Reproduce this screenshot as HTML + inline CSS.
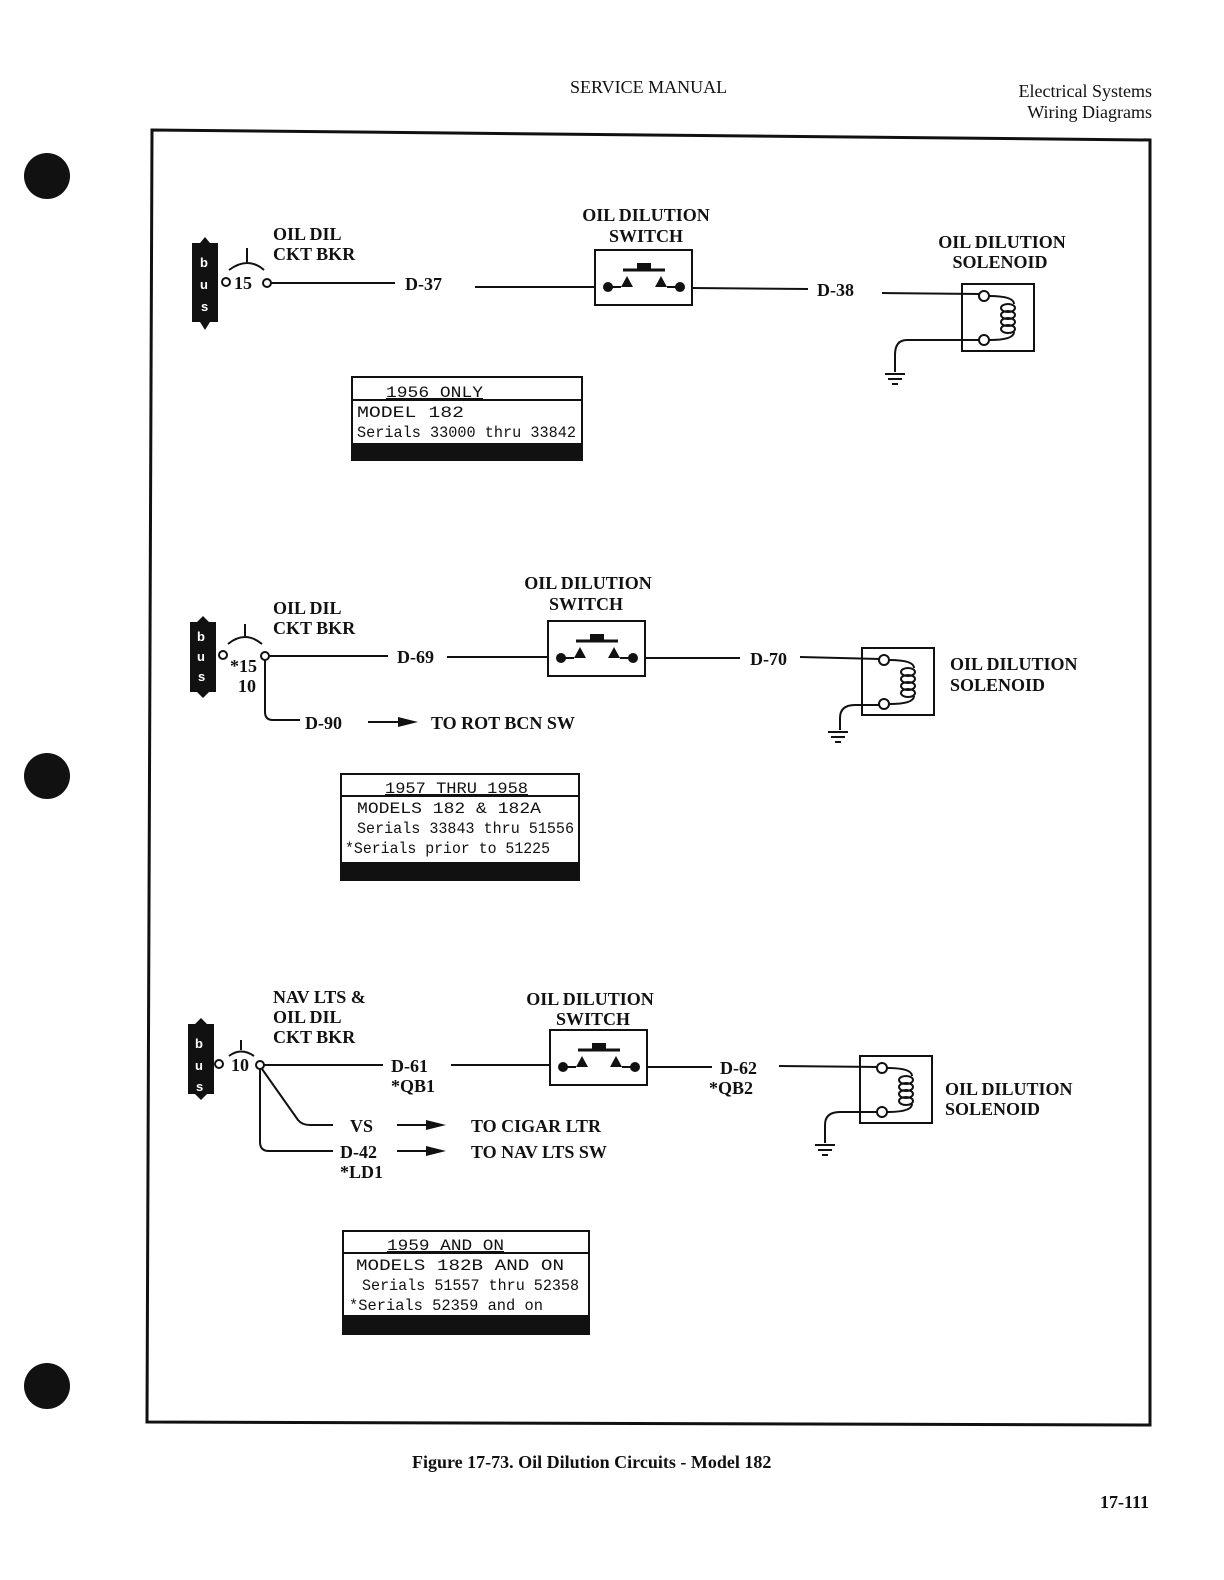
<!DOCTYPE html>
<html><head><meta charset="utf-8"><style>
html,body{margin:0;padding:0;background:#fff;width:1224px;height:1580px;overflow:hidden}
svg{display:block}
.t{font-family:"Liberation Serif",serif;font-weight:bold;font-size:18px;fill:#111}
.m{font-family:"Liberation Mono","DejaVu Sans Mono",monospace;font-size:16px;fill:#111}
.h{font-family:"Liberation Serif",serif;font-size:18px;fill:#111}
.w{stroke:#111;stroke-width:2;fill:none}
.b{font-family:"Liberation Sans",sans-serif;font-weight:bold;font-size:13px;fill:#fff}
</style></head><body>
<svg width="1224" height="1580" viewBox="0 0 1224 1580">
<defs>
<g id="sw">
<rect x="0" y="0" width="97" height="55" class="w" stroke-width="3"/>
<line x1="28" y1="20" x2="70" y2="20" stroke="#111" stroke-width="3"/>
<rect x="42" y="13" width="14" height="8" fill="#111"/>
<circle cx="13" cy="37" r="5" fill="#111"/>
<circle cx="85" cy="37" r="5" fill="#111"/>
<line x1="13" y1="37" x2="26" y2="37" class="w"/>
<line x1="72" y1="37" x2="85" y2="37" class="w"/>
<polygon points="26,37 32,26 38,37" fill="#111"/>
<polygon points="60,37 66,26 72,37" fill="#111"/>
</g>
<g id="sol">
<rect x="0" y="0" width="72" height="67" class="w" stroke-width="3"/>
<circle cx="22" cy="12" r="5" fill="#fff" stroke="#111" stroke-width="2"/>
<circle cx="22" cy="56" r="5" fill="#fff" stroke="#111" stroke-width="2"/>
<path d="M27 12 Q52 12 52 20 M27 56 Q52 56 52 48" class="w"/>
<ellipse cx="46" cy="24" rx="7" ry="4" class="w"/>
<ellipse cx="46" cy="31" rx="7" ry="4" class="w"/>
<ellipse cx="46" cy="38" rx="7" ry="4" class="w"/>
<ellipse cx="46" cy="45" rx="7" ry="4" class="w"/>
</g>
<g id="gnd">
<line x1="-10" y1="0" x2="10" y2="0" class="w"/>
<line x1="-7" y1="5" x2="7" y2="5" class="w"/>
<line x1="-3" y1="10" x2="3" y2="10" class="w"/>
</g>
<polygon id="arr" points="0,-5 20,0 0,5" fill="#111"/>
</defs>

<circle cx="47" cy="176" r="23" fill="#111"/>
<circle cx="47" cy="776" r="23" fill="#111"/>
<circle cx="47" cy="1386" r="23" fill="#111"/>

<text x="570" y="93" class="h">SERVICE MANUAL</text>
<text x="1152" y="97" class="h" text-anchor="end">Electrical Systems</text>
<text x="1152" y="118" class="h" text-anchor="end">Wiring Diagrams</text>

<polygon points="152,130 1150,140 1150,1425 147,1422" fill="none" stroke="#111" stroke-width="3"/>

<!-- Diagram 1 -->
<polygon points="192,243 200,243 205,237 210,243 218,243 218,322 210,322 205,330 200,322 192,322" fill="#111"/>
<text x="200" y="267" class="b">b</text><text x="200" y="289" class="b">u</text><text x="201" y="311" class="b">s</text>
<circle cx="226" cy="282" r="4" fill="#fff" stroke="#111" stroke-width="2"/>
<circle cx="267" cy="283" r="4" fill="#fff" stroke="#111" stroke-width="2"/>
<path d="M229 270 Q248 256 264 270 M247 262 V248" class="w"/>
<text x="234" y="289" class="t" font-size="17">15</text>
<text x="273" y="240" class="t">OIL DIL</text><text x="273" y="260" class="t">CKT BKR</text>
<line x1="271" y1="283" x2="395" y2="283" class="w"/>
<text x="405" y="290" class="t">D-37</text>
<line x1="475" y1="287" x2="595" y2="287" class="w"/>
<use href="#sw" x="595" y="250"/>
<text x="646" y="221" class="t" text-anchor="middle">OIL DILUTION</text><text x="646" y="242" class="t" text-anchor="middle">SWITCH</text>
<line x1="692" y1="288" x2="808" y2="289" class="w"/>
<text x="817" y="296" class="t">D-38</text>
<line x1="882" y1="293" x2="980" y2="294" class="w"/>
<use href="#sol" x="962" y="284"/>
<path d="M980 340 H907 Q895 340 895 355 V372" class="w"/>
<use href="#gnd" x="895" y="374"/>
<text x="1002" y="248" class="t" text-anchor="middle">OIL DILUTION</text><text x="1000" y="268" class="t" text-anchor="middle">SOLENOID</text>
<rect x="352" y="377" width="230" height="83" fill="none" stroke="#111" stroke-width="2"/>
<line x1="352" y1="400" x2="582" y2="400" stroke="#111" stroke-width="2"/>
<rect x="352" y="443" width="230" height="17" fill="#111"/>
<text x="386" y="397" class="m" text-decoration="underline" textLength="97" lengthAdjust="spacingAndGlyphs">1956 ONLY</text>
<text x="357" y="417" class="m" textLength="107" lengthAdjust="spacingAndGlyphs">MODEL 182</text>
<text x="357" y="437" class="m" textLength="219" lengthAdjust="spacingAndGlyphs">Serials 33000 thru 33842</text>

<!-- Diagram 2 -->
<polygon points="190,622 197,622 203,616 209,622 216,622 216,692 209,692 203,698 197,692 190,692" fill="#111"/>
<text x="197" y="641" class="b">b</text><text x="197" y="661" class="b">u</text><text x="198" y="681" class="b">s</text>
<circle cx="223" cy="655" r="4" fill="#fff" stroke="#111" stroke-width="2"/>
<circle cx="265" cy="656" r="4" fill="#fff" stroke="#111" stroke-width="2"/>
<path d="M228 644 Q245 630 262 644 M245 636 V624" class="w"/>
<text x="230" y="672" class="t" font-size="17">*15</text>
<text x="238" y="692" class="t" font-size="17">10</text>
<text x="273" y="614" class="t">OIL DIL</text><text x="273" y="634" class="t">CKT BKR</text>
<line x1="269" y1="656" x2="388" y2="656" class="w"/>
<text x="397" y="663" class="t">D-69</text>
<line x1="447" y1="657" x2="548" y2="657" class="w"/>
<use href="#sw" x="548" y="621"/>
<text x="588" y="589" class="t" text-anchor="middle">OIL DILUTION</text><text x="586" y="610" class="t" text-anchor="middle">SWITCH</text>
<line x1="645" y1="658" x2="740" y2="658" class="w"/>
<text x="750" y="665" class="t">D-70</text>
<line x1="800" y1="657" x2="880" y2="659" class="w"/>
<use href="#sol" x="862" y="648"/>
<path d="M880 705 H855 Q840 705 840 718 V730" class="w"/>
<use href="#gnd" x="838" y="732"/>
<text x="950" y="670" class="t">OIL DILUTION</text><text x="950" y="691" class="t">SOLENOID</text>
<path d="M265 660 V712 Q265 720 273 720 H300" class="w"/>
<text x="305" y="729" class="t">D-90</text>
<line x1="368" y1="722" x2="400" y2="722" class="w"/><use href="#arr" x="398" y="722"/>
<text x="431" y="729" class="t">TO ROT BCN SW</text>
<rect x="341" y="774" width="238" height="106" fill="none" stroke="#111" stroke-width="2"/>
<line x1="341" y1="796" x2="579" y2="796" stroke="#111" stroke-width="2"/>
<rect x="341" y="862" width="238" height="18" fill="#111"/>
<text x="385" y="793" class="m" text-decoration="underline" textLength="143" lengthAdjust="spacingAndGlyphs">1957 THRU 1958</text>
<text x="357" y="813" class="m" textLength="184" lengthAdjust="spacingAndGlyphs">MODELS 182 &amp; 182A</text>
<text x="357" y="833" class="m" textLength="217" lengthAdjust="spacingAndGlyphs">Serials 33843 thru 51556</text>
<text x="345" y="853" class="m" textLength="205" lengthAdjust="spacingAndGlyphs">*Serials prior to 51225</text>

<!-- Diagram 3 -->
<polygon points="188,1024 195,1024 201,1018 207,1024 214,1024 214,1094 207,1094 201,1100 195,1094 188,1094" fill="#111"/>
<text x="195" y="1048" class="b">b</text><text x="195" y="1070" class="b">u</text><text x="196" y="1091" class="b">s</text>
<circle cx="219" cy="1064" r="4" fill="#fff" stroke="#111" stroke-width="2"/>
<circle cx="260" cy="1065" r="4" fill="#fff" stroke="#111" stroke-width="2"/>
<path d="M229 1056 Q241 1047 254 1056 M241 1050 V1040" class="w"/>
<text x="231" y="1071" class="t" font-size="17">10</text>
<text x="273" y="1003" class="t">NAV LTS &amp;</text><text x="273" y="1023" class="t">OIL DIL</text><text x="273" y="1043" class="t">CKT BKR</text>
<line x1="264" y1="1065" x2="383" y2="1065" class="w"/>
<text x="391" y="1072" class="t">D-61</text><text x="391" y="1092" class="t">*QB1</text>
<line x1="451" y1="1065" x2="550" y2="1065" class="w"/>
<use href="#sw" x="550" y="1030"/>
<text x="590" y="1005" class="t" text-anchor="middle">OIL DILUTION</text><text x="593" y="1025" class="t" text-anchor="middle">SWITCH</text>
<line x1="647" y1="1067" x2="712" y2="1067" class="w"/>
<text x="720" y="1074" class="t">D-62</text><text x="709" y="1094" class="t">*QB2</text>
<line x1="779" y1="1066" x2="880" y2="1067" class="w"/>
<use href="#sol" x="860" y="1056"/>
<path d="M878 1112 H840 Q825 1112 825 1125 V1143" class="w"/>
<use href="#gnd" x="825" y="1145"/>
<text x="945" y="1095" class="t">OIL DILUTION</text><text x="945" y="1115" class="t">SOLENOID</text>
<path d="M262 1069 L298 1120 Q302 1125 310 1125 H333" class="w"/>
<path d="M260 1069 V1142 Q260 1151 269 1151 H333" class="w"/>
<text x="350" y="1132" class="t">VS</text>
<text x="340" y="1158" class="t">D-42</text><text x="340" y="1178" class="t">*LD1</text>
<line x1="397" y1="1125" x2="428" y2="1125" class="w"/><use href="#arr" x="426" y="1125"/>
<line x1="397" y1="1151" x2="428" y2="1151" class="w"/><use href="#arr" x="426" y="1151"/>
<text x="471" y="1132" class="t">TO CIGAR LTR</text>
<text x="471" y="1158" class="t">TO NAV LTS SW</text>
<rect x="343" y="1231" width="246" height="103" fill="none" stroke="#111" stroke-width="2"/>
<line x1="343" y1="1253" x2="589" y2="1253" stroke="#111" stroke-width="2"/>
<rect x="343" y="1315" width="246" height="19" fill="#111"/>
<text x="387" y="1250" class="m" text-decoration="underline" textLength="117" lengthAdjust="spacingAndGlyphs">1959 AND ON</text>
<text x="356" y="1270" class="m" textLength="208" lengthAdjust="spacingAndGlyphs">MODELS 182B AND ON</text>
<text x="362" y="1290" class="m" textLength="217" lengthAdjust="spacingAndGlyphs">Serials 51557 thru 52358</text>
<text x="349" y="1310" class="m" textLength="194" lengthAdjust="spacingAndGlyphs">*Serials 52359 and on</text>

<text x="412" y="1468" class="t" font-family="Liberation Sans,sans-serif" font-size="17">Figure 17-73.  Oil Dilution Circuits - Model 182</text>
<text x="1149" y="1508" class="t" font-size="17" text-anchor="end">17-111</text>
</svg>
</body></html>
